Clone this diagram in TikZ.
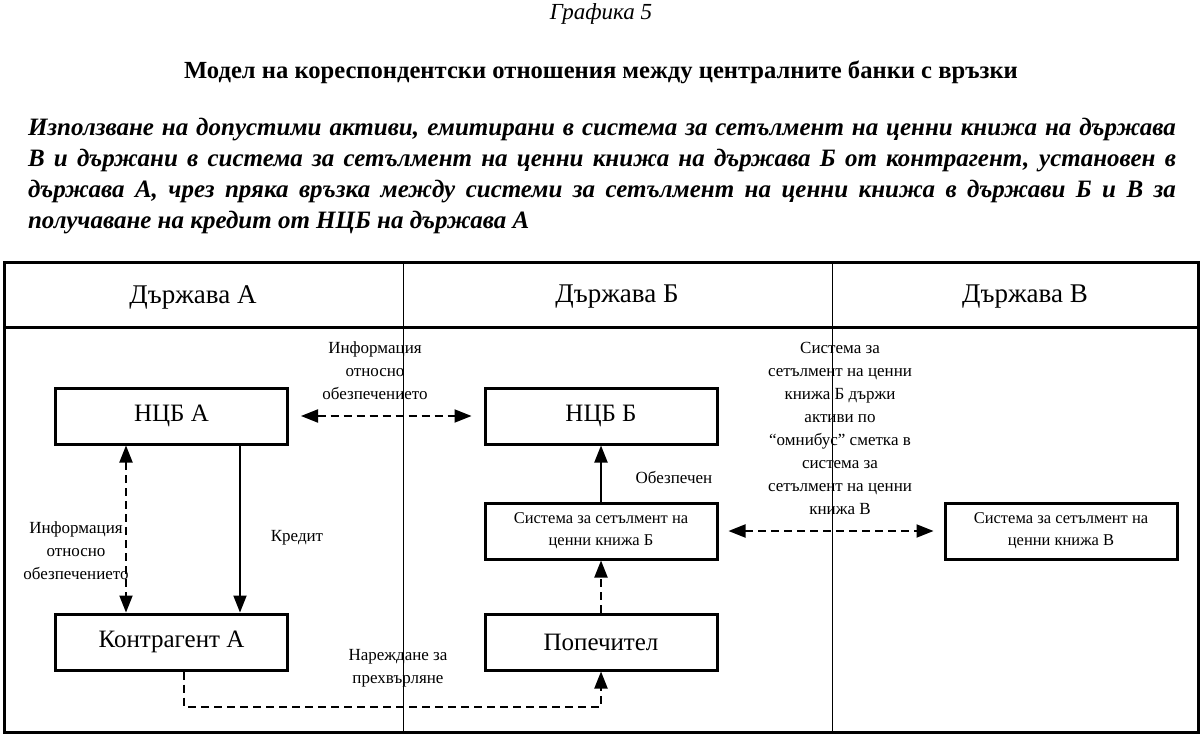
\documentclass[tikz,border=0pt]{standalone}
\usepackage{fontspec}
\setmainfont{Liberation Serif}
\usetikzlibrary{arrows.meta}
\begin{document}
\begin{tikzpicture}[x=1pt,y=-1pt,
  box/.style={draw,line width=3pt,minimum width=232pt,minimum height=56pt,inner sep=2pt,
    font=\fontsize{25}{29}\selectfont},
  boxsmall/.style={box,align=center,font=\fontsize{16.5}{22}\selectfont},
  lbl/.style={align=center,inner sep=1pt,font=\fontsize{17}{23}\selectfont},
  hdr/.style={font=\fontsize{27}{31}\selectfont},
  tip/.style={line width=2pt,-{Triangle[length=17pt,width=13pt]}},
  twotip/.style={line width=2pt,{Triangle[length=17pt,width=13pt]}-{Triangle[length=17pt,width=13pt]}},
  dashes/.style={dash pattern=on 8pt off 5pt}]
  \useasboundingbox (0,0) rectangle (1202,738);
  % title and caption
  \node[font=\itshape\fontsize{23}{27}\selectfont] (graf) at (601,14) {Графика 5};
  \node[font=\bfseries\fontsize{24.6}{28}\selectfont] (title) at (601,72)
    {Модел на кореспондентски отношения между централните банки с връзки};
  \node[text width=1148pt,align=justify,inner sep=0pt,
    font=\bfseries\itshape\fontsize{25}{31}\selectfont] (para) at (602,176.5)
    {\hyphenpenalty=10000 Използване на допустими активи, емитирани в система за сетълмент на ценни книжа на държава\linebreak
     В и държани в система за сетълмент на ценни книжа на държава Б от контрагент, установен в\linebreak
     държава А, чрез пряка връзка между системи за сетълмент на ценни книжа в държави Б и В за\linebreak
     получаване на кредит от НЦБ на държава А};
  % frame
  \draw[line width=1pt] (403,262) -- (403,732);
  \draw[line width=1pt] (832,262) -- (832,732);
  \draw[line width=3pt] (4,262) rectangle (1198,732);
  \draw[line width=3pt] (4,327) -- (1198,327);
  \node[hdr] (hdrA) at (193,297) {Държава А};
  \node[hdr] (hdrB) at (617,297) {Държава Б};
  \node[hdr] (hdrV) at (1025,297) {Държава В};
  % boxes
  \node[box] (ncbA) at (171.5,416) {НЦБ А};
  \node[box] (ncbB) at (601,416) {НЦБ Б};
  \node[box] (kontrA) at (171.5,642) {Контрагент А};
  \node[box] (popech) at (601,642) {Попечител};
  \node[boxsmall] (sysB) at (601,531) {Система за сетълмент на\\ценни книжа Б};
  \node[boxsmall] (sysV) at (1061,531) {Система за сетълмент на\\ценни книжа В};
  % connectors
  \draw[twotip,dashes,shorten <=12pt,shorten >=12pt] (ncbA.east) -- (ncbB.west);
  \draw[twotip,dashes] ([xshift=-45.5pt]ncbA.south) -- ([xshift=-45.5pt]kontrA.north);
  \draw[tip] ([xshift=68.5pt]ncbA.south) -- ([xshift=68.5pt]kontrA.north);
  \draw[tip] (sysB.north) -- (ncbB.south);
  \draw[tip,dashes] (popech.north) -- (sysB.south);
  \draw[tip,dashes] ([xshift=12.5pt]kontrA.south) -- ++(0,35) -| (popech.south);
  \draw[twotip,dashes,shorten <=10pt,shorten >=10pt] (sysB.east) -- (sysV.west);
  % labels
  \node[lbl] (infoTop) at (375,371) {Информация\\относно\\обезпечението};
  \node[lbl] (infoLeft) at (76,551) {Информация\\относно\\обезпечението};
  \node[lbl] (kredit) at (297,538) {Кредит};
  \node[lbl] (obezp) at (674,477) {Обезпечен};
  \node[lbl] (narezh) at (398,668) {Нареждане за\\прехвърляне};
  \node[lbl] (omnibus) at (840,428.5) {Система за\\сетълмент на ценни\\книжа Б държи\\активи по\\“омнибус” сметка в\\система за\\сетълмент на ценни\\книжа В};
\end{tikzpicture}
\end{document}
